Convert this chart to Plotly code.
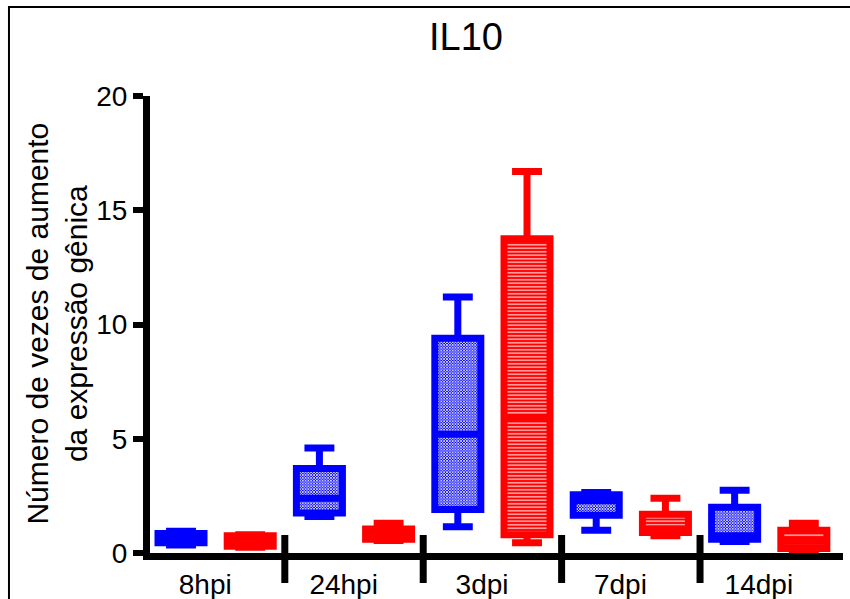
import plotly.graph_objects as go

categories = ['8hpi', '24hpi', '3dpi', '7dpi', '14dpi']

blue_lower = [0.35, 1.6, 1.15, 1.0, 0.5]
blue_q1 = [0.45, 1.75, 1.9, 1.65, 0.6]
blue_median = [0.65, 2.4, 5.2, 2.3, 0.75]
blue_q3 = [0.85, 3.7, 9.4, 2.55, 2.0]
blue_upper = [0.95, 4.6, 11.2, 2.65, 2.75]

red_lower = [0.25, 0.55, 0.45, 0.75, 0.1]
red_q1 = [0.3, 0.6, 0.8, 0.9, 0.2]
red_median = [0.45, 0.85, 5.9, 1.05, 0.55]
red_q3 = [0.75, 1.05, 13.75, 1.7, 1.0]
red_upper = [0.8, 1.3, 16.7, 2.4, 1.3]

y_ticks = [0, 5, 10, 15, 20]

BLUE = '#0000FF'
RED = '#FF0000'
FONT = 'Liberation Sans, Arial, Helvetica, sans-serif'
BOX_W = 0.665
LW = 7

n = len(categories)
x_blue = [2 * i for i in range(n)]
x_red = [2 * i + 1 for i in range(n)]

fig = go.Figure()

# patterned fills (under the box outlines)
fig.add_trace(go.Bar(
    x=x_blue, y=[a - b for a, b in zip(blue_q3, blue_q1)], base=blue_q1,
    width=BOX_W, hoverinfo='skip', showlegend=False,
    marker=dict(color=BLUE, line=dict(width=0),
                pattern=dict(shape='x', fgcolor='white', bgcolor=BLUE,
                             size=2, solidity=0.6, fillmode='replace'))))
fig.add_trace(go.Bar(
    x=x_red, y=[a - b for a, b in zip(red_q3, red_q1)], base=red_q1,
    width=BOX_W, hoverinfo='skip', showlegend=False,
    marker=dict(color=RED, line=dict(width=0),
                pattern=dict(shape='-', fgcolor='white', bgcolor=RED,
                             size=3.5, solidity=0.3, fillmode='replace'))))

fig.add_trace(go.Box(
    x=x_blue, q1=blue_q1, median=blue_median, q3=blue_q3,
    lowerfence=blue_lower, upperfence=blue_upper,
    width=BOX_W, whiskerwidth=0.65, boxpoints=False,
    line=dict(color=BLUE, width=LW), fillcolor='rgba(0,0,0,0)',
    hoverinfo='skip', showlegend=False))
fig.add_trace(go.Box(
    x=x_red, q1=red_q1, median=red_median, q3=red_q3,
    lowerfence=red_lower, upperfence=red_upper,
    width=BOX_W, whiskerwidth=0.65, boxpoints=False,
    line=dict(color=RED, width=LW), fillcolor='rgba(0,0,0,0)',
    hoverinfo='skip', showlegend=False))

# group separators on the x axis
shapes = []
for i in range(n - 1):
    xs = 2 * i + 1.5
    shapes.append(dict(type='line', xref='x', yref='paper', x0=xs, x1=xs,
                       y0=-0.0656, y1=0.0394,
                       line=dict(color='black', width=LW)))
# outer frame
shapes.append(dict(type='rect', xref='paper', yref='paper',
                   x0=-0.2035, x1=1.2, y0=-0.3, y1=1.1947,
                   line=dict(color='black', width=2), fillcolor='rgba(0,0,0,0)',
                   layer='below'))

fig.update_layout(
    width=850, height=599,
    margin=dict(l=150, r=7, t=96, b=46),
    paper_bgcolor='white', plot_bgcolor='white',
    barmode='overlay',
    font=dict(family=FONT, color='black'),
    shapes=shapes,
    title=dict(text='IL10', x=466 / 850, xanchor='center', xref='container',
               y=1 - 37 / 599, yanchor='middle', yref='container',
               font=dict(size=38, family=FONT, color='black')),
    annotations=[dict(text='Número de vezes de aumento<br>da expressão gênica',
                      xref='paper', yref='paper', x=-0.1342, y=0.502,
                      xanchor='center', yanchor='middle', textangle=-90,
                      showarrow=False, font=dict(size=30, family=FONT, color='black'))],
)

fig.update_xaxes(
    range=[-0.448, 9.566], showgrid=False, zeroline=False, automargin=False,
    showline=True, linecolor='black', linewidth=LW,
    tickvals=[2 * i + 0.35 for i in range(n)], ticktext=categories,
    ticks='', tickfont=dict(size=28, family=FONT, color='black'))

fig.update_yaxes(
    range=[0, 20], showgrid=False, zeroline=False, automargin=False,
    showline=True, linecolor='black', linewidth=LW,
    tickvals=y_ticks, ticktext=[str(v) for v in y_ticks],
    ticks='outside', ticklen=10, tickwidth=6, tickcolor='black',
    tickfont=dict(size=28, family=FONT, color='black'))

fig.write_html('out.html')
